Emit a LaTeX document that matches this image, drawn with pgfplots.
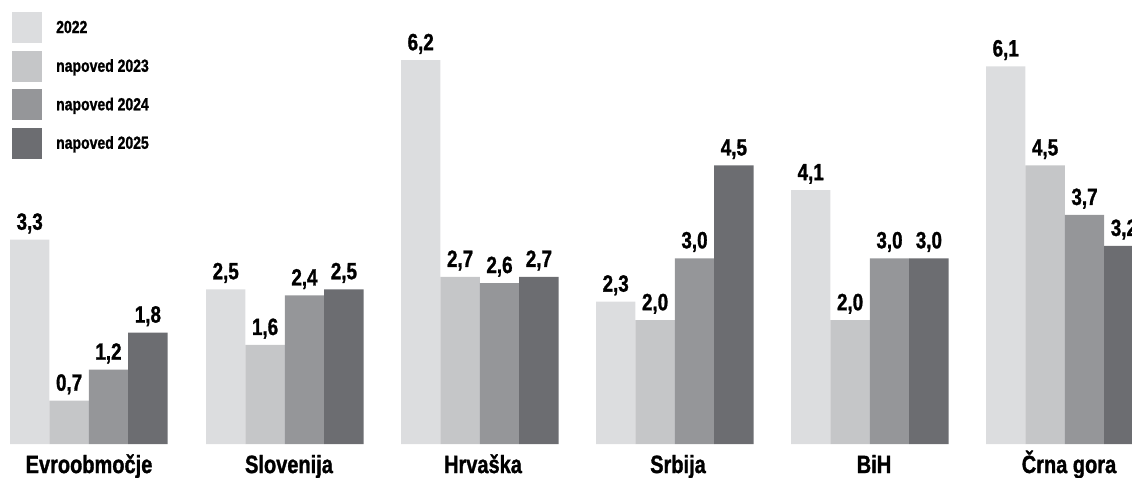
\documentclass[border=0pt]{standalone}
\usepackage{pgfplots}
\pgfplotsset{compat=1.18}
\usepackage{fontspec}
\setmainfont{Liberation Sans}[FakeStretch=0.8, BoldFeatures={FakeBold=1.2}]
\definecolor{c1}{HTML}{DCDDDF}
\definecolor{c2}{HTML}{C5C6C8}
\definecolor{c3}{HTML}{959699}
\definecolor{c4}{HTML}{6C6D71}
\begin{document}
\begin{tikzpicture}
\begin{axis}[
  x=1bp, y=61.9bp,
  xmin=0, xmax=1132, ymin=-0.549, ymax=7.173,
  hide axis,
  ybar, bar width=39.4, bar shift=0pt,
  /pgf/number format/.cd, use comma, fixed, fixed zerofill, precision=1, assume math mode=true,
  /pgfplots/.cd,
  nodes near coords,
  every node near coord/.append style={anchor=base, yshift=10bp, inner sep=0pt,
     font=\fontsize{23.5bp}{24bp}\selectfont\bfseries, text=black},
  legend style={at={(axis cs:12,6.979)}, anchor=north west, draw=none, fill=none,
     inner sep=0pt, row sep=7.5bp, column sep=14bp,
     font=\fontsize{17.5bp}{18bp}\selectfont\bfseries,
     nodes={inner sep=0pt}, cells={anchor=west}},
  legend image code/.code={\fill[#1] (0bp,-15.5bp) rectangle (30bp,15.5bp);},
]
\addplot[fill=c1, draw=none, bar shift=0pt] coordinates {(29.7,3.3) (225.7,2.5) (420.7,6.2) (615.7,2.3) (810.7,4.1) (1005.7,6.1)};
\addlegendentry{2022}
\addplot[fill=c2, draw=none, bar shift=0pt] coordinates {(69.1,0.7) (265.1,1.6) (460.1,2.7) (655.1,2.0) (850.1,2.0) (1045.1,4.5)};
\addlegendentry{napoved 2023}
\addplot[fill=c3, draw=none, bar shift=0pt] coordinates {(108.5,1.2) (304.5,2.4) (499.5,2.6) (694.5,3.0) (889.5,3.0) (1084.5,3.7)};
\addlegendentry{napoved 2024}
\addplot[fill=c4, draw=none, bar shift=0pt] coordinates {(147.9,1.8) (343.9,2.5) (538.9,2.7) (733.9,4.5) (928.9,3.0) (1123.9,3.2)};
\addlegendentry{napoved 2025}
\begin{scope}[every node/.style={anchor=base, inner sep=0pt, font=\fontsize{25bp}{26bp}\selectfont\bfseries}]
\node at (axis cs:89,-0.469) {Evroobmočje};
\node at (axis cs:289,-0.469) {Slovenija};
\node at (axis cs:483,-0.469) {Hrvaška};
\node at (axis cs:678,-0.469) {Srbija};
\node at (axis cs:874,-0.469) {BiH};
\node at (axis cs:1069,-0.469) {Črna gora};
\end{scope}
\end{axis}
\pgfresetboundingbox
\path[use as bounding box] (current axis.south west) rectangle (current axis.north east);
\end{tikzpicture}
\end{document}
